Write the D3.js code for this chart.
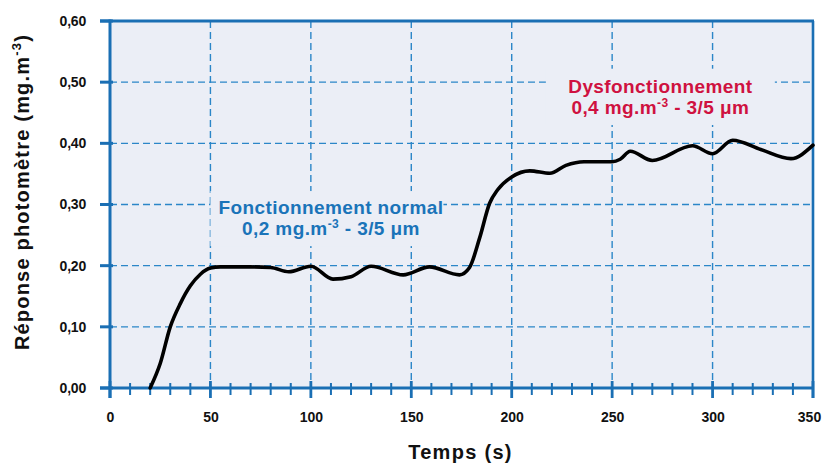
<!DOCTYPE html>
<html><head><meta charset="utf-8">
<script src="https://cdn.jsdelivr.net/npm/d3@7/dist/d3.min.js"></script>
<style>
html,body{margin:0;padding:0;background:#fff;}
svg{display:block;font-family:"Liberation Sans",Arial,Helvetica,sans-serif;}
</style></head>
<body>
<svg id="chart" width="823" height="469"></svg>
<script>
// ---- data ----
const timeS = [20,25,30,35,40,45,50,55,60,70,80,89,100,111,120,130,146,159,174,179,184,189,193,200,209,219,227,236,250,254,259,270,290,300,310,324,339,350];
const response = [0.000,0.040,0.100,0.138,0.167,0.186,0.196,0.198,0.198,0.198,0.197,0.190,0.199,0.178,0.182,0.199,0.185,0.198,0.185,0.197,0.245,0.302,0.324,0.345,0.355,0.351,0.364,0.370,0.370,0.374,0.387,0.372,0.396,0.383,0.405,0.390,0.375,0.397];
const xTicks = [0,50,100,150,200,250,300,350];
const xMinorTicks = [10,20,30,40,60,70,80,90,110,120,130,140,160,170,180,190,210,220,230,240,260,270,280,290,310,320,330,340];
const yTicks = [0,0.1,0.2,0.3,0.4,0.5,0.6];
const xTitle = "Temps (s)";
const yTitleMain = "Réponse photomètre (mg.m";
const yTitleSup = "-3";
const annotNormal = {line1:"Fonctionnement normal", pre:"0,2 mg.m", sup:"-3", post:" - 3/5 μm", x:110, y:0.285, box:[50,166,0.232,0.322]};
const annotDys = {line1:"Dysfonctionnement", pre:"0,4 mg.m", sup:"-3", post:" - 3/5 μm", x:274, y:0.482, box:[217,331,0.43,0.522]};

// ---- layout ----
const svg = d3.select("#chart");
const x = d3.scaleLinear().domain([0,350]).range([110,813]);
const y = d3.scaleLinear().domain([0,0.6]).range([388,21]);
const axisBlue = "#1a6fb4", gridBlue = "#2b86c8", bg = "#ebeef6";
const fmt = v => d3.format(".2f")(v).replace(".", ",");

svg.append("rect").attr("x",x(0)).attr("y",y(0.6)).attr("width",x(350)-x(0)).attr("height",y(0)-y(0.6)).attr("fill",bg);

// grid
const grid = svg.append("g").attr("stroke",gridBlue).attr("stroke-width",1.4).attr("stroke-dasharray","7,4");
grid.selectAll(".vg").data(xTicks.filter(d=>d>0&&d<350)).join("line")
  .attr("x1",d=>x(d)).attr("x2",d=>x(d)).attr("y1",y(0.6)).attr("y2",y(0));
grid.selectAll(".hg").data(yTicks.filter(d=>d>0&&d<0.6)).join("line")
  .attr("x1",x(0)).attr("x2",x(350)).attr("y1",d=>y(d)).attr("y2",d=>y(d));

// annotation backgrounds
[annotNormal, annotDys].forEach(a=>{
  svg.append("rect").attr("x",x(a.box[0])).attr("width",x(a.box[1])-x(a.box[0]))
    .attr("y",y(a.box[3])).attr("height",y(a.box[2])-y(a.box[3])).attr("fill",bg);
});

// frame top & right
svg.append("line").attr("x1",100).attr("x2",x(350)+1).attr("y1",y(0.6)).attr("y2",y(0.6)).attr("stroke",axisBlue).attr("stroke-width",3);
svg.append("line").attr("x1",x(350)).attr("x2",x(350)).attr("y1",y(0.6)).attr("y2",y(0)+10).attr("stroke",axisBlue).attr("stroke-width",2.6);

// x axis
const xAxis = svg.append("g").attr("transform",`translate(0,${y(0)})`)
  .call(d3.axisBottom(x).tickValues(xTicks).tickSize(0).tickPadding(24).tickFormat(d3.format("d")));
xAxis.select(".domain").remove();
xAxis.selectAll("text").attr("font-size",14).attr("font-weight","bold").attr("fill","#111")
  .attr("dx",d=>d===350?-4:0);
svg.append("line").attr("x1",100).attr("x2",x(350)).attr("y1",y(0)).attr("y2",y(0)).attr("stroke",axisBlue).attr("stroke-width",3);
svg.append("g").selectAll("line").data(xMinorTicks).join("line")
  .attr("x1",d=>x(d)).attr("x2",d=>x(d)).attr("y1",y(0)-5).attr("y2",y(0)+7)
  .attr("stroke",axisBlue).attr("stroke-width",2);
svg.append("g").selectAll("line").data(xTicks).join("line")
  .attr("x1",d=>x(d)).attr("x2",d=>x(d)).attr("y1",y(0)-7).attr("y2",y(0)+10)
  .attr("stroke",axisBlue).attr("stroke-width",2.8);

// y axis
const yAxis = svg.append("g").attr("transform",`translate(${x(0)},0)`)
  .call(d3.axisLeft(y).tickValues(yTicks).tickSize(0).tickPadding(24).tickFormat(fmt));
yAxis.select(".domain").remove();
yAxis.selectAll("text").attr("font-size",14).attr("font-weight","bold").attr("fill","#111").attr("letter-spacing",-0.2);
svg.append("line").attr("x1",x(0)).attr("x2",x(0)).attr("y1",y(0.6)-1.5).attr("y2",y(0)+10).attr("stroke",axisBlue).attr("stroke-width",3);
svg.append("g").selectAll("line").data(yTicks).join("line")
  .attr("x1",100).attr("x2",x(0)+3).attr("y1",d=>y(d)).attr("y2",d=>y(d))
  .attr("stroke",axisBlue).attr("stroke-width",3);

// curve
const line = d3.line().x((d,i)=>x(timeS[i])).y(d=>y(d)).curve(d3.curveMonotoneX);
svg.append("path").attr("d",line(response)).attr("fill","none").attr("stroke","#000")
  .attr("stroke-width",3.6).attr("stroke-linecap","round").attr("stroke-linejoin","round");

// annotations
function annot(a,color){
  const t = svg.append("text").attr("x",x(a.x)).attr("text-anchor","middle")
    .attr("font-size",19).attr("font-weight","bold").attr("fill",color).attr("letter-spacing",0.4);
  t.append("tspan").attr("x",x(a.x)).attr("y",y(a.y)).text(a.line1);
  const t2 = svg.append("text").attr("x",x(a.x)).attr("y",y(a.y)+21).attr("text-anchor","middle")
    .attr("font-size",19).attr("font-weight","bold").attr("fill",color).attr("letter-spacing",0.4);
  t2.append("tspan").text(a.pre);
  t2.append("tspan").attr("font-size",12).attr("dy",-7).text(a.sup);
  t2.append("tspan").attr("dy",7).text(a.post);
}
annot(annotNormal,"#1a74b9");
annot(annotDys,"#cf1140");

// axis titles
svg.append("text").attr("x",(x(0)+x(350))/2-1).attr("y",459).attr("text-anchor","middle")
  .attr("font-size",20).attr("font-weight","bold").attr("letter-spacing",1.3).attr("fill","#111").text(xTitle);
const yt = svg.append("text").attr("transform","translate(29,192) rotate(-90)").attr("text-anchor","middle")
  .attr("font-size",20).attr("font-weight","bold").attr("letter-spacing",1.2).attr("fill","#111");
yt.append("tspan").text(yTitleMain);
yt.append("tspan").attr("font-size",13).attr("dy",-8).text(yTitleSup);
yt.append("tspan").attr("dy",8).text(")");
</script>
</body></html>
